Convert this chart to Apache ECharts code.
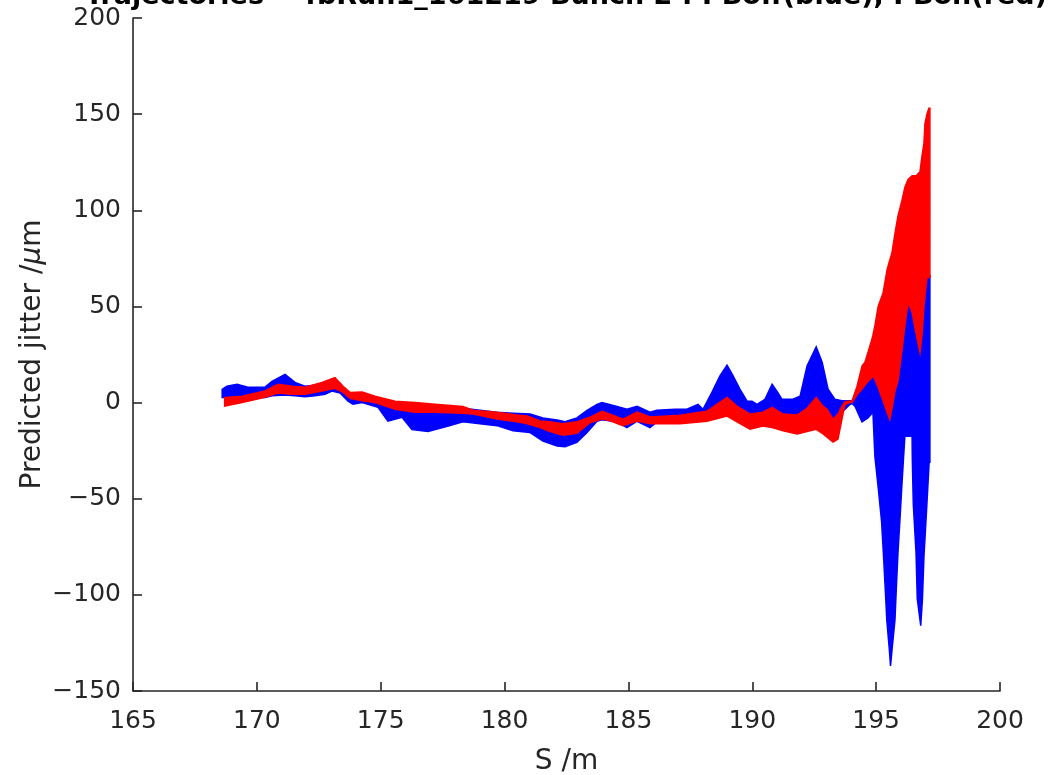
<!DOCTYPE html>
<html>
<head>
<meta charset="utf-8">
<script src="https://cdn.jsdelivr.net/npm/echarts@6/dist/echarts.min.js"></script>
<style>
html,body{margin:0;padding:0;background:#fff;}
#chart{width:1049px;height:775px;}
</style>
</head>
<body>
<div id="chart"></div>
<script>
// PBoff (blue) trajectory bundle envelope
const blueS  = [168.60,168.79,169.20,169.64,170.33,170.61,171.14,171.54,171.94,172.35,172.75,173.03,173.36,173.68,173.88,174.25,174.89,175.29,175.86,176.26,176.91,177.80,178.32,179.69,180.34,181.03,181.55,182.12,182.44,182.92,183.33,183.73,183.93,184.54,184.94,185.35,185.87,186.15,186.88,187.36,187.81,188.01,188.37,188.70,188.98,189.22,189.50,189.79,189.99,190.19,190.51,190.80,191.04,191.20,191.64,191.93,192.21,192.58,192.82,193.06,193.34,193.62,193.94,194.03,194.15,194.43,194.67,194.87,194.95,195.09,195.22,195.29,195.36,195.43,195.53,195.58,195.66,195.76,195.82,195.89,195.96,196.03,196.10,196.16,196.29,196.45,196.46,196.50,196.61,196.66,196.80,196.87,196.93,197.04,197.14,197.17];
const blueHi = [6.9,8.5,9.5,8.0,8.0,11.0,14.7,10.5,8.5,9.0,10.5,12.0,10.0,5.0,4.5,4.5,2.0,0.0,-1.0,-2.0,-2.0,-3.0,-3.0,-5.0,-5.5,-6.0,-8.0,-9.0,-10.0,-8.0,-4.0,-1.0,0.0,-2.0,-3.5,-2.0,-5.0,-4.0,-3.5,-3.5,-1.0,-3.5,5.3,14.0,19.5,14.0,7.0,0.7,0.7,-1.0,1.7,9.5,5.0,1.7,1.7,3.3,19.0,29.0,21.0,7.0,1.7,1.0,1.0,1.0,3.0,8.0,12.0,14.5,14.0,10.0,5.0,3.0,0.0,-2.0,-6.0,-6.0,0.0,8.0,10.0,13.0,21.0,28.0,35.0,42.0,53.0,49.0,48.0,46.0,38.0,35.0,30.0,39.0,52.0,65.0,66.0,66.0];
const blueLo = [2.7,2.7,2.7,2.7,2.7,3.5,4.0,3.5,3.0,3.5,4.3,6.0,5.0,0.7,-0.9,0.0,-2.5,-9.6,-7.6,-14.0,-15.0,-12.0,-10.0,-12.0,-14.7,-15.6,-20.0,-22.6,-23.0,-20.7,-15.6,-9.7,-9.0,-10.0,-13.0,-9.7,-13.0,-10.0,-9.0,-9.0,-8.0,-8.0,-7.0,-5.0,-5.0,-6.0,-9.0,-11.0,-12.0,-11.0,-10.0,-10.0,-11.0,-12.0,-13.0,-13.0,-12.0,-11.0,-13.0,-15.0,-12.0,-5.0,-1.0,-0.5,-2.0,-10.0,-8.0,-5.0,-28.0,-45.0,-62.0,-78.0,-95.0,-113.0,-128.0,-137.0,-126.0,-113.0,-95.0,-76.0,-61.0,-45.0,-30.0,-17.5,-17.5,-17.5,-29.4,-52.8,-78.0,-102.0,-116.0,-102.0,-80.0,-55.0,-31.0,-31.0];

// PBon (red) trajectory bundle envelope
const redS  = [168.70,169.40,170.33,170.85,171.42,171.94,172.63,173.15,173.48,173.76,174.25,174.77,175.58,176.38,177.19,178.32,178.73,179.69,180.50,180.91,181.43,181.83,182.36,182.92,183.45,183.93,184.26,184.78,185.35,185.87,187.08,188.17,188.98,189.38,189.91,190.43,190.80,191.24,191.81,192.21,192.58,192.86,193.02,193.26,193.46,193.62,193.74,193.94,194.03,194.23,194.43,194.55,194.67,194.83,194.87,194.95,195.08,195.28,195.44,195.55,195.64,195.76,195.88,196.04,196.16,196.29,196.45,196.61,196.77,196.85,196.93,196.97,197.05,197.13,197.17];
const redHi = [2.7,3.3,6.0,9.5,8.5,8.0,10.5,13.0,8.5,5.3,5.5,3.3,0.7,0.0,-0.9,-2.0,-4.0,-5.0,-6.5,-7.0,-9.6,-10.0,-11.0,-10.0,-7.6,-4.5,-6.0,-8.6,-5.0,-7.5,-6.6,-4.5,2.7,-1.8,-6.0,-5.0,-2.5,-6.0,-6.5,-3.0,2.7,-2.0,-3.5,-8.6,-6.0,-1.8,0.5,0.8,1.0,8.5,19.0,21.0,26.0,33.0,35.0,40.0,50.0,57.0,69.0,74.0,78.0,88.0,97.0,105.0,112.0,116.0,118.0,118.0,120.0,128.0,135.0,145.0,150.0,153.0,153.0];
const redLo = [-1.8,0.0,2.7,5.0,4.3,4.3,6.0,7.4,5.3,2.2,1.0,0.0,-3.5,-5.0,-5.0,-5.5,-6.0,-8.6,-10.0,-11.0,-13.0,-15.0,-17.0,-16.0,-10.5,-8.6,-9.5,-12.0,-9.6,-11.0,-11.0,-9.7,-7.0,-10.0,-13.9,-12.2,-13.0,-14.7,-16.3,-15.0,-13.9,-16.3,-18.0,-20.6,-19.0,-8.6,-1.0,0.0,0.0,4.0,7.0,9.0,11.0,13.0,13.7,12.0,8.0,1.0,-5.0,-8.7,-3.0,6.0,11.0,27.0,40.0,52.0,47.0,36.0,26.0,35.0,50.0,55.0,65.0,65.0,65.0];

const xTicks = [165,170,175,180,185,190,195,200];
const yTicks = [-150,-100,-50,0,50,100,150,200];
const titleText = 'Trajectories -- fbRun1_161219 Bunch 2 : PBoff(blue), PBon(red)';

const FONT = 'DejaVu Sans';
const AX = '#262626';

function band(name, S, lo, hi, color) {
  return {
    type: 'custom',
    name: name,
    data: S.map((s, i) => [s, lo[i], hi[i]]),
    encode: { x: 0, y: [1, 2] },
    clip: true,
    renderItem: function (params, api) {
      if (params.dataIndex !== 0) return null;
      const pts = [];
      for (let i = 0; i < S.length; i++) pts.push(api.coord([S[i], hi[i]]));
      for (let i = S.length - 1; i >= 0; i--) pts.push(api.coord([S[i], lo[i]]));
      return {
        type: 'polygon',
        shape: { points: pts },
        style: { fill: color, stroke: color, lineWidth: 1.5, lineJoin: 'miter' }
      };
    }
  };
}

const chart = echarts.init(document.getElementById('chart'));
chart.setOption({
  animation: false,
  backgroundColor: '#ffffff',
  graphic: [{
    type: 'text',
    x: 566, y: -3,
    style: {
      text: titleText,
      align: 'center',
      verticalAlign: 'middle',
      font: 'bold 27px "DejaVu Sans"',
      fill: '#000000'
    }
  }],
  grid: { left: 133, right: 49, top: 18, bottom: 84, containLabel: false, outerBoundsMode: 'none' },
  xAxis: {
    type: 'value',
    min: 165, max: 200, interval: 5,
    name: 'S /m',
    nameLocation: 'middle',
    nameGap: 57,
    nameMoveOverlap: false,
    nameTextStyle: { fontFamily: FONT, fontSize: 28, color: AX },
    axisLine: { show: true, onZero: false, lineStyle: { color: AX, width: 1.6 } },
    axisTick: { show: true, inside: true, length: 9, lineStyle: { color: AX, width: 1.6 } },
    axisLabel: {
      fontFamily: FONT, fontSize: 25, color: AX, margin: 18,
      formatter: v => xTicks.indexOf(v) >= 0 ? String(v) : ''
    },
    splitLine: { show: false }
  },
  yAxis: {
    type: 'value',
    min: -150, max: 200, interval: 50,
    name: 'Predicted jitter /{it|μ}m',
    nameLocation: 'middle',
    nameGap: 86,
    nameMoveOverlap: false,
    nameRotate: 90,
    nameTextStyle: {
      fontFamily: FONT, fontSize: 28, color: AX,
      rich: { it: { fontFamily: FONT, fontSize: 28, fontStyle: 'italic', color: AX } }
    },
    axisLine: { show: true, onZero: false, lineStyle: { color: AX, width: 1.6 } },
    axisTick: { show: true, inside: true, length: 9, lineStyle: { color: AX, width: 1.6 } },
    axisLabel: {
      fontFamily: FONT, fontSize: 25, color: AX, margin: 12,
      padding: [5, 0, 0, 0],
      formatter: v => yTicks.indexOf(v) >= 0 ? String(v).replace('-', '\u2212') : ''
    },
    splitLine: { show: false }
  },
  series: [
    band('PBoff', blueS, blueLo, blueHi, '#0000ff'),
    band('PBon', redS, redLo, redHi, '#ff0000')
  ]
});
</script>
</body>
</html>
